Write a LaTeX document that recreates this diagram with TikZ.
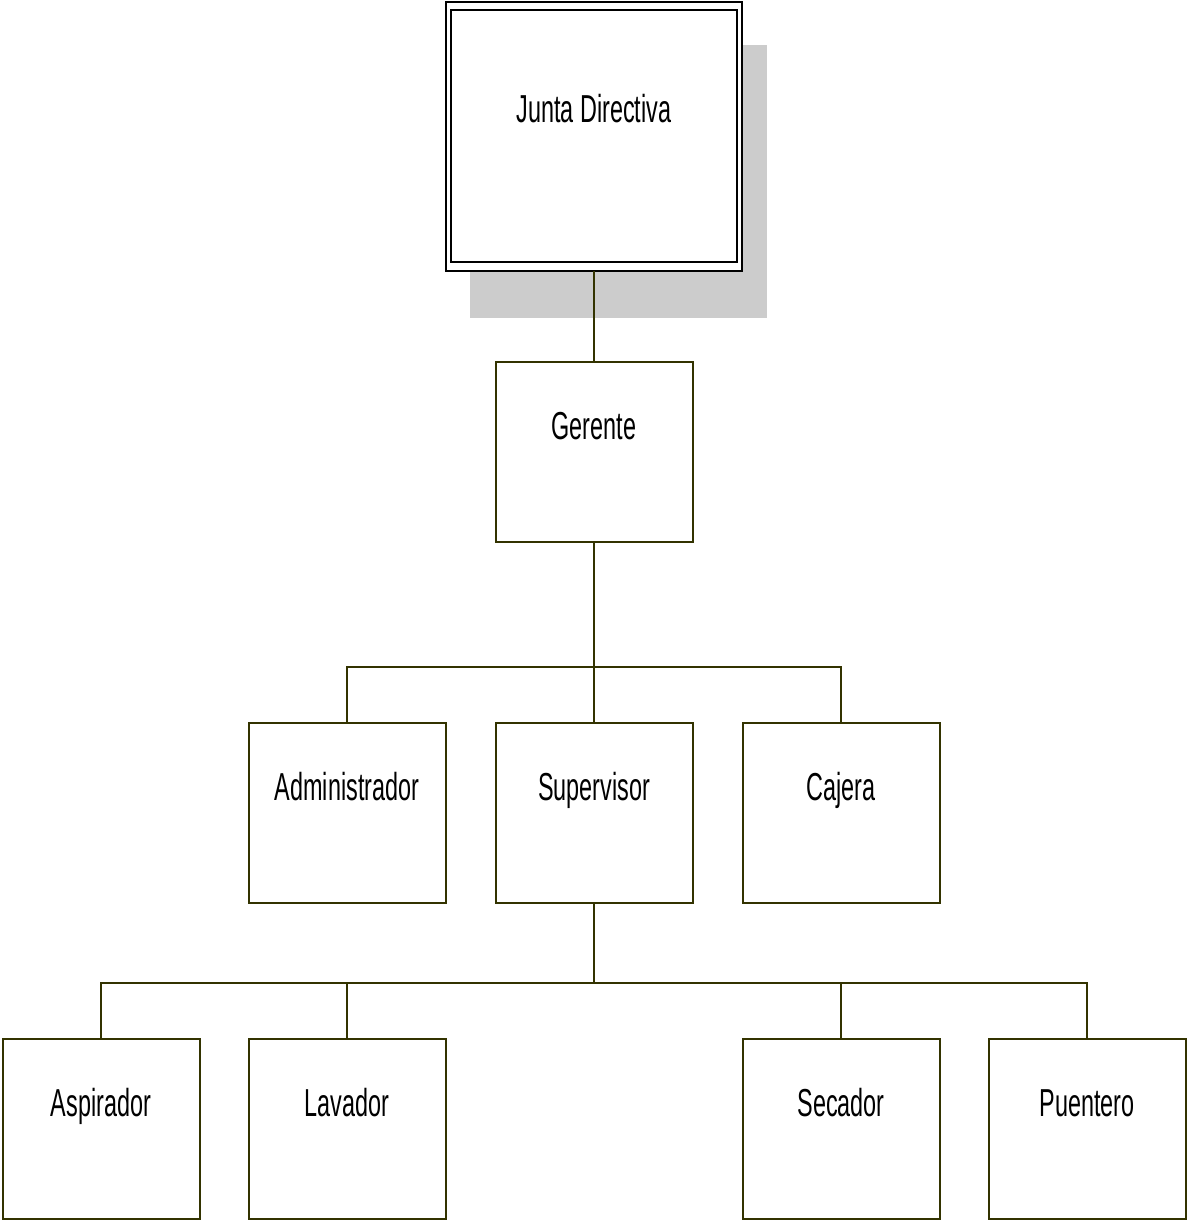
\documentclass[tikz,border=0pt]{standalone}
\usepackage{fontspec}
\setmainfont{Liberation Sans}[FakeStretch=0.6]
\begin{document}
\begin{tikzpicture}[x=1pt,y=-1pt,
  box/.style={draw=olivec,line width=2pt,fill=white,minimum width=197pt,minimum height=180pt,inner sep=0pt,outer sep=0pt},
  lbl/.style={anchor=base,inner sep=0pt,font=\fontsize{39}{42}\selectfont},
  conn/.style={draw=olivec,line width=2.2pt}]
\definecolor{olivec}{HTML}{333300}
\useasboundingbox (0,0) rectangle (1186,1220);
% shadow
\fill[black!20] (470,45) rectangle (767,318);
% top box
\node[draw=black,line width=1.8pt,fill=white,minimum width=296pt,minimum height=269pt,inner sep=0pt,outer sep=0pt] (jd) at (594,136.5) {};
\node[draw=black,line width=1.8pt,minimum width=286pt,minimum height=252pt,inner sep=0pt] (jdin) at (594,136) {};
\node[lbl] (jdt) at (594,123) {Junta Directiva};
% level 2
\node[box] (ge) at (594,452) {};
\node[lbl] (get) at (594,439) {Gerente};
% level 3
\node[box] (ad) at (347,813) {};
\node[box] (su) at (594,813) {};
\node[box] (ca) at (841,813) {};
\node[lbl] (adt) at (347,800) {Administrador};
\node[lbl] (sut) at (594,800) {Supervisor};
\node[lbl] (cat) at (841,800) {Cajera};
% level 4
\node[box] (as) at (101,1128.5) {};
\node[box] (la) at (347,1128.5) {};
\node[box] (se) at (841,1128.5) {};
\node[box] (pu) at (1087,1128.5) {};
\node[lbl] (ast) at (101,1116) {Aspirador};
\node[lbl] (lat) at (347,1116) {Lavador};
\node[lbl] (set) at (841,1116) {Secador};
\node[lbl] (put) at (1087,1116) {Puentero};
% connectors
\coordinate (b1) at (594,667);
\coordinate (b2) at (594,983);
\draw[conn] (jd.south) -- (ge.north);
\draw[conn] (ge.south) -- (su.north);
\draw[conn] (ad.north) |- (b1) -| (ca.north);
\draw[conn] (su.south) -- (b2);
\draw[conn] (as.north) |- (b2) -| (pu.north);
\draw[conn] (la.north) -- (la.north |- b2);
\draw[conn] (se.north) -- (se.north |- b2);
\end{tikzpicture}
\end{document}
